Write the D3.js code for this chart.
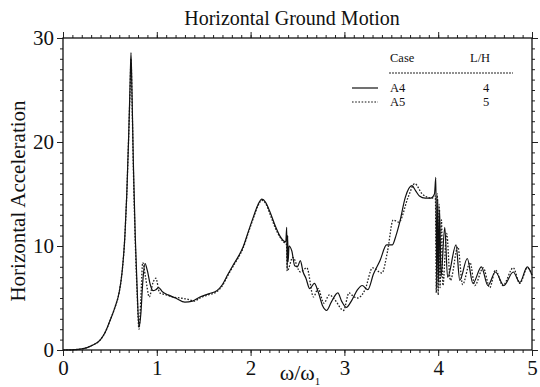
<!DOCTYPE html>
<html>
<head>
<meta charset="utf-8">
<script src="https://cdn.jsdelivr.net/npm/d3@7"></script>
<style>
  body { margin: 0; background: #fff; }
  svg text { font-family: "Liberation Serif", "DejaVu Serif", serif; fill: #111; }
</style>
</head>
<body>
<div id="chart"></div>
<script>
// A4 (L/H = 4), solid line
const freqA4 = [0, 0.1, 0.2, 0.3, 0.4, 0.45, 0.5, 0.55, 0.6, 0.63, 0.66, 0.68, 0.7, 0.715, 0.725, 0.735, 0.75, 0.77, 0.79, 0.81,
  0.83, 0.85, 0.875, 0.9, 0.93, 0.96, 0.99, 1.02, 1.06, 1.12, 1.2, 1.3, 1.38, 1.46, 1.55, 1.64, 1.7, 1.76, 1.81, 1.87,
  1.92, 1.98, 2.03, 2.08, 2.12, 2.16, 2.21, 2.26, 2.31, 2.35, 2.375, 2.385, 2.39, 2.395, 2.4, 2.41, 2.44, 2.47, 2.5, 2.53,
  2.56, 2.59, 2.63, 2.68, 2.72, 2.77, 2.81, 2.86, 2.93, 2.97, 3.02, 3.08, 3.14, 3.19, 3.25, 3.31, 3.38, 3.45, 3.51, 3.55,
  3.59, 3.65, 3.72, 3.76, 3.8, 3.86, 3.92, 3.96, 3.975, 3.985, 3.995, 4.005, 4.015, 4.03, 4.07, 4.1, 4.19, 4.23, 4.31, 4.37,
  4.46, 4.53, 4.61, 4.7, 4.8, 4.87, 4.95, 5.0];
const accelA4 = [0, 0.02, 0.1, 0.4, 1.0, 1.7, 2.8, 4.0, 5.6, 7.5, 11.0, 15.0, 20.5, 25.5, 28.6, 25.0, 18.0, 11.0, 6.0, 2.2,
  3.5, 6.5, 8.3, 7.6, 6.3, 5.7, 5.8, 6.0, 5.6, 5.3, 5.0, 4.6, 4.7, 5.1, 5.4, 5.7, 6.3, 7.3, 8.1, 9.0,
  9.9, 11.5, 12.8, 14.0, 14.5, 14.2, 13.2, 12.0, 11.0, 10.5, 10.4, 11.8, 7.8, 11.0, 8.5, 10.0, 9.5, 8.1, 8.0, 8.6,
  7.5, 6.9, 5.9, 6.4, 5.6, 4.2, 3.8, 4.6, 5.5, 4.7, 4.1, 4.8, 5.8, 6.2, 5.8, 7.3, 8.6, 10.1, 10.1, 11.0,
  12.3, 14.7, 15.8, 15.3, 14.8, 14.6, 14.6, 15.0, 16.6, 6.0, 14.5, 6.5, 13.5, 7.0, 11.8, 7.0, 10.1, 6.7, 8.8, 6.4,
  8.0, 6.2, 7.5, 6.2, 7.5, 6.5, 8.0, 7.2];

// A5 (L/H = 5), dotted line
const freqA5 = [0, 0.1, 0.2, 0.3, 0.4, 0.45, 0.5, 0.55, 0.6, 0.63, 0.66, 0.68, 0.7, 0.715, 0.725, 0.735, 0.75, 0.77, 0.79, 0.81,
  0.83, 0.85, 0.88, 0.92, 0.96, 0.99, 1.03, 1.1, 1.17, 1.25, 1.32, 1.4, 1.46, 1.55, 1.64, 1.7, 1.76, 1.81, 1.87, 1.92,
  1.98, 2.03, 2.08, 2.12, 2.16, 2.21, 2.26, 2.31, 2.35, 2.38, 2.385, 2.39, 2.45, 2.53, 2.6, 2.67, 2.72, 2.78, 2.84, 2.9,
  2.99, 3.05, 3.09, 3.14, 3.22, 3.3, 3.4, 3.46, 3.52, 3.58, 3.68, 3.75, 3.83, 3.93, 3.97, 3.98, 3.99, 4.0, 4.01, 4.02,
  4.035, 4.05, 4.09, 4.13, 4.21, 4.26, 4.34, 4.39, 4.48, 4.55, 4.61, 4.69, 4.8, 4.87, 4.95, 5.0];
const accelA5 = [0, 0.02, 0.1, 0.4, 1.0, 1.7, 2.8, 4.0, 5.6, 7.5, 11.0, 15.0, 20.5, 25.0, 28.0, 24.5, 17.5, 10.5, 5.5, 2.0,
  5.0, 8.4, 7.0, 5.1, 6.5, 6.9, 5.5, 5.3, 5.1, 5.0, 4.9, 4.7, 5.0, 5.3, 5.6, 6.2, 7.2, 8.0, 8.9, 9.8,
  11.4, 12.7, 13.9, 14.4, 14.1, 13.0, 11.8, 10.9, 10.4, 10.2, 9.8, 7.6, 8.9, 7.5, 7.9, 5.1, 5.9, 4.5, 5.3, 4.8,
  3.8, 5.5, 5.2, 5.0, 5.8, 7.9, 7.4, 9.5, 12.5, 12.3, 14.7, 16.0, 15.0, 14.6, 14.8, 5.5, 15.0, 5.3, 14.0, 6.0,
  12.5, 6.2, 11.2, 6.7, 9.9, 6.3, 8.4, 6.2, 7.9, 6.0, 7.7, 6.2, 7.9, 6.4, 7.9, 7.2];

const xTicks = [0, 1, 2, 3, 4, 5];
const yTicks = [0, 10, 20, 30];
const legendRows = [
  { name: "A4", lh: "4", dash: null },
  { name: "A5", lh: "5", dash: "1.6,1.6" }
];

const width = 540, height = 387;
const margin = { top: 38, right: 8, bottom: 37, left: 63 };

const svg = d3.select("#chart").append("svg")
  .attr("width", width)
  .attr("height", height);

const x = d3.scaleLinear().domain([0, 5]).range([margin.left, width - margin.right]);
const y = d3.scaleLinear().domain([0, 30]).range([height - margin.bottom, margin.top]);

const xMinor = d3.range(0, 5.001, 0.1).map(v => +v.toFixed(1));
const yMinor = d3.range(0, 31, 1);

// minor ticks on all four sides
svg.append("g").attr("transform", `translate(0,${y(0)})`)
  .call(d3.axisBottom(x).tickValues(xMinor).tickSize(3).tickFormat(""));
svg.append("g").attr("transform", `translate(0,${y(30)})`)
  .call(d3.axisTop(x).tickValues(xMinor).tickSize(3).tickFormat(""));
svg.append("g").attr("transform", `translate(${x(0)},0)`)
  .call(d3.axisLeft(y).tickValues(yMinor).tickSize(3).tickFormat(""));
svg.append("g").attr("transform", `translate(${x(5)},0)`)
  .call(d3.axisRight(y).tickValues(yMinor).tickSize(3).tickFormat(""));

// major ticks + labels
const xAxis = svg.append("g").attr("transform", `translate(0,${y(0)})`)
  .call(d3.axisBottom(x).tickValues(xTicks).tickSize(6).tickPadding(4).tickFormat(d3.format("d")));
svg.append("g").attr("transform", `translate(0,${y(30)})`)
  .call(d3.axisTop(x).tickValues(xTicks).tickSize(6).tickFormat(""));
const yAxis = svg.append("g").attr("transform", `translate(${x(0)},0)`)
  .call(d3.axisLeft(y).tickValues(yTicks).tickSize(6).tickPadding(3).tickFormat(d3.format("d")));
svg.append("g").attr("transform", `translate(${x(5)},0)`)
  .call(d3.axisRight(y).tickValues(yTicks).tickSize(6).tickFormat(""));

svg.selectAll(".domain").remove();
svg.selectAll(".tick line").attr("stroke", "#222").attr("stroke-width", 1);
xAxis.selectAll("text").attr("font-size", 21).style("font-family", "Liberation Serif").attr("fill", "#111");
yAxis.selectAll("text").attr("font-size", 21).style("font-family", "Liberation Serif").attr("fill", "#111");

// frame
svg.append("rect")
  .attr("x", x(0)).attr("y", y(30))
  .attr("width", x(5) - x(0)).attr("height", y(0) - y(30))
  .attr("fill", "none").attr("stroke", "#111").attr("stroke-width", 1.3);

// curves
const line = d3.line()
  .x(d => x(d[0]))
  .y(d => y(d[1]))
  .curve(d3.curveMonotoneX);

const seriesA4 = freqA4.map((f, i) => [f, accelA4[i]]);
const seriesA5 = freqA5.map((f, i) => [f, accelA5[i]]);

svg.append("path").datum(seriesA5)
  .attr("d", line).attr("fill", "none")
  .attr("stroke", "#222").attr("stroke-width", 1.3).attr("stroke-dasharray", "1.6,1.6");
svg.append("path").datum(seriesA4)
  .attr("d", line).attr("fill", "none")
  .attr("stroke", "#111").attr("stroke-width", 1.2);

// title and axis labels
svg.append("text").attr("x", 292).attr("y", 25)
  .attr("text-anchor", "middle").attr("font-size", 20)
  .text("Horizontal Ground Motion");

svg.append("text")
  .attr("transform", `translate(25,201) rotate(-90)`)
  .attr("text-anchor", "middle").attr("font-size", 21)
  .text("Horizontal Acceleration");

const xl = svg.append("text").attr("x", 300).attr("y", 380)
  .attr("text-anchor", "middle").attr("font-size", 22);
xl.append("tspan").text("ω/ω");
xl.append("tspan").attr("font-size", 11).attr("dy", 5).text("1");

// legend
const lg = svg.append("g").attr("font-size", 12.5);
lg.append("text").attr("x", 390).attr("y", 62).text("Case");
lg.append("text").attr("x", 470).attr("y", 62).text("L/H");
lg.append("line").attr("x1", 389).attr("x2", 513).attr("y1", 73).attr("y2", 73)
  .attr("stroke", "#222").attr("stroke-width", 1.2).attr("stroke-dasharray", "2,1");
legendRows.forEach((r, i) => {
  const yy = 88 + i * 14;
  lg.append("line").attr("x1", 352).attr("x2", 378).attr("y1", yy).attr("y2", yy)
    .attr("stroke", "#111").attr("stroke-width", 1.2)
    .attr("stroke-dasharray", r.dash);
  lg.append("text").attr("x", 390).attr("y", yy + 4).text(r.name);
  lg.append("text").attr("x", 486).attr("y", yy + 4).attr("text-anchor", "middle").text(r.lh);
});
</script>
</body>
</html>
